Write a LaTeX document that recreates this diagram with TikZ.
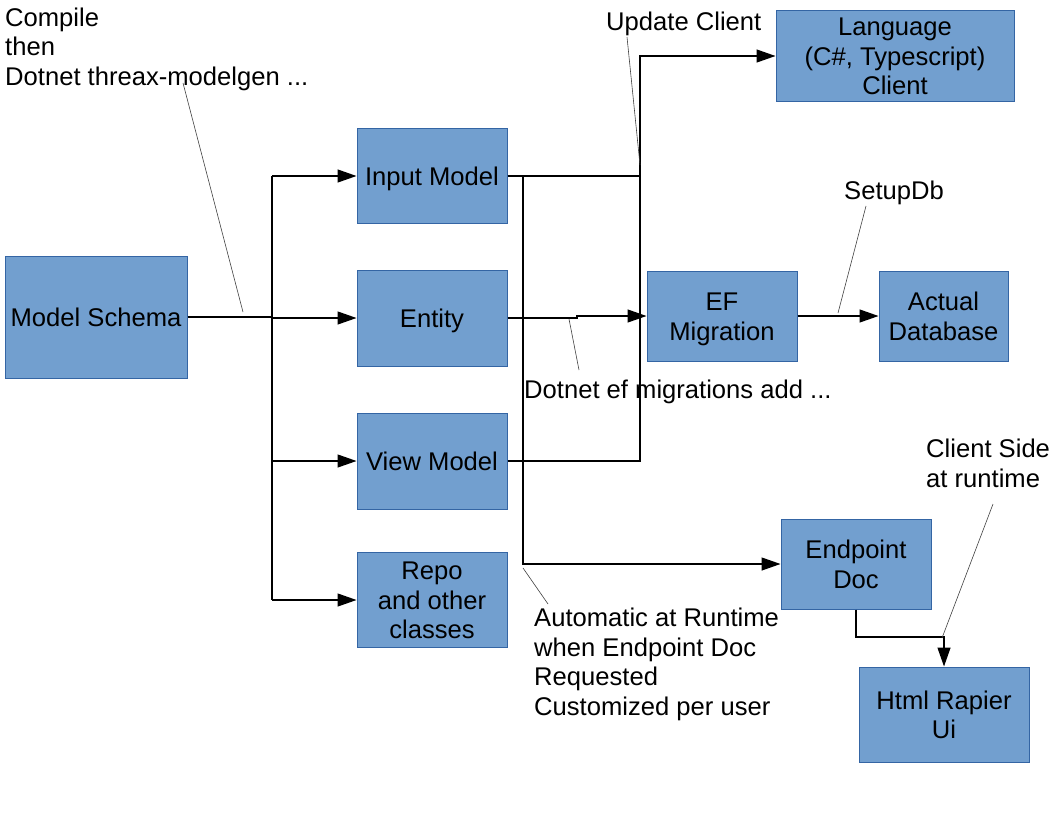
\documentclass[tikz,border=0pt]{standalone}
\usepackage{fontspec}
\setmainfont{Liberation Sans}
\usetikzlibrary{arrows.meta}
\definecolor{boxfill}{HTML}{729FCF}
\definecolor{boxdraw}{HTML}{3465A4}
\newcommand{\linestrut}{\rule[-6pt]{0pt}{30.3pt}}
\newcommand{\topstrut}{\rule{0pt}{24.8pt}}
\begin{document}
\begin{tikzpicture}[x=1pt,y=-1pt,
  every node/.style={font=\fontsize{25.6}{29.5}\selectfont, inner sep=0pt,
    execute at begin node=\linestrut, execute at end node=\linestrut},
  box/.style={draw=boxdraw, fill=boxfill, line width=1pt, align=center},
  conn/.style={line width=1.3pt},
  arr/.style={conn, -{Triangle[length=19pt,width=13pt]}},
  note/.style={draw=black!75, line width=0.6pt},
  lbl/.style={align=left, anchor=west}]
\useasboundingbox (0,0) rectangle (1056,816);

% boxes
\node[box, minimum width=182pt, minimum height=122pt] (schema) at (96,317) {Model Schema};
\node[box, minimum width=150pt, minimum height=95pt] (input) at (432,176) {Input Model};
\node[box, minimum width=150pt, minimum height=96pt] (entity) at (432,318) {Entity};
\node[box, minimum width=150pt, minimum height=96pt] (view) at (432,461) {View Model};
\node[box, minimum width=150pt, minimum height=95pt] (repo) at (432,600) {Repo\topstrut\\and other\\classes};
\node[box, minimum width=238pt, minimum height=90pt] (lang) at (895,56) {Language\topstrut\\(C\#, Typescript)\\Client};
\node[box, minimum width=150pt, minimum height=90pt] (ef) at (722,316) {EF\topstrut\\Migration};
\node[box, minimum width=129pt, minimum height=90pt] (db) at (943.5,316) {Actual\topstrut\\Database};
\node[box, minimum width=150pt, minimum height=90pt] (endpoint) at (856,564) {Endpoint\topstrut\\Doc};
\node[box, minimum width=170pt, minimum height=95pt] (html) at (944,714.5) {Html Rapier\topstrut\\Ui};

% junction coordinates
\coordinate (jm) at (272,317);
\coordinate (jt) at (272,176);
\coordinate (je) at (272,318);
\coordinate (jv) at (272,461);
\coordinate (jr) at (272,600);
\coordinate (ju) at (640,176);
\coordinate (jd) at (523,176);
\coordinate (s1) at (577,318);
\coordinate (s2) at (577,316);
\coordinate (k) at (944,637);

% connectors
\draw[conn] (schema.east) -- (jm);
\draw[conn] (jt) -- (jr);
\draw[arr] (jt) -- (input.west);
\draw[arr] (je) -- (entity.west);
\draw[arr] (jv) -- (view.west);
\draw[arr] (jr) -- (repo.west);
\draw[arr] (input.east) -- (ju) |- (lang.west);
\draw[conn] (view.east) -| (ju);
\draw[arr] (jd) |- (endpoint.west);
\draw[arr] (entity.east) -- (s1) -- (s2) -- (ef.west);
\draw[arr] (ef.east) -- (db.west);
\draw[arr] (endpoint.south) |- (k) -- (html.north);

% labels
\node[lbl] (tcompile) at (5,46.5) {Compile\topstrut\\then\\Dotnet threax-modelgen ...};
\node[lbl] (tupdate) at (606,21) {Update Client};
\node[lbl] (tsetup) at (844,190) {SetupDb};
\node[lbl] (tef) at (524,389) {Dotnet ef migrations add ...};
\node[lbl] (tauto) at (534,661.5) {Automatic at Runtime\topstrut\\when Endpoint Doc\\Requested\\Customized per user};
\node[lbl] (tclient) at (926,463) {Client Side\topstrut\\at runtime};

% annotation lines
\coordinate (a1) at (183,83);  \coordinate (b1) at (243,312);
\coordinate (a2) at (627,37);  \coordinate (b2) at (640,165);
\coordinate (a3) at (866,206); \coordinate (b3) at (838,313);
\coordinate (a4) at (569,319); \coordinate (b4) at (579,370);
\coordinate (a5) at (523,568); \coordinate (b5) at (548,604);
\coordinate (a6) at (993,504); \coordinate (b6) at (942,638);
\draw[note] (a1) -- (b1);
\draw[note] (a2) -- (b2);
\draw[note] (a3) -- (b3);
\draw[note] (a4) -- (b4);
\draw[note] (a5) -- (b5);
\draw[note] (a6) -- (b6);
\end{tikzpicture}
\end{document}
